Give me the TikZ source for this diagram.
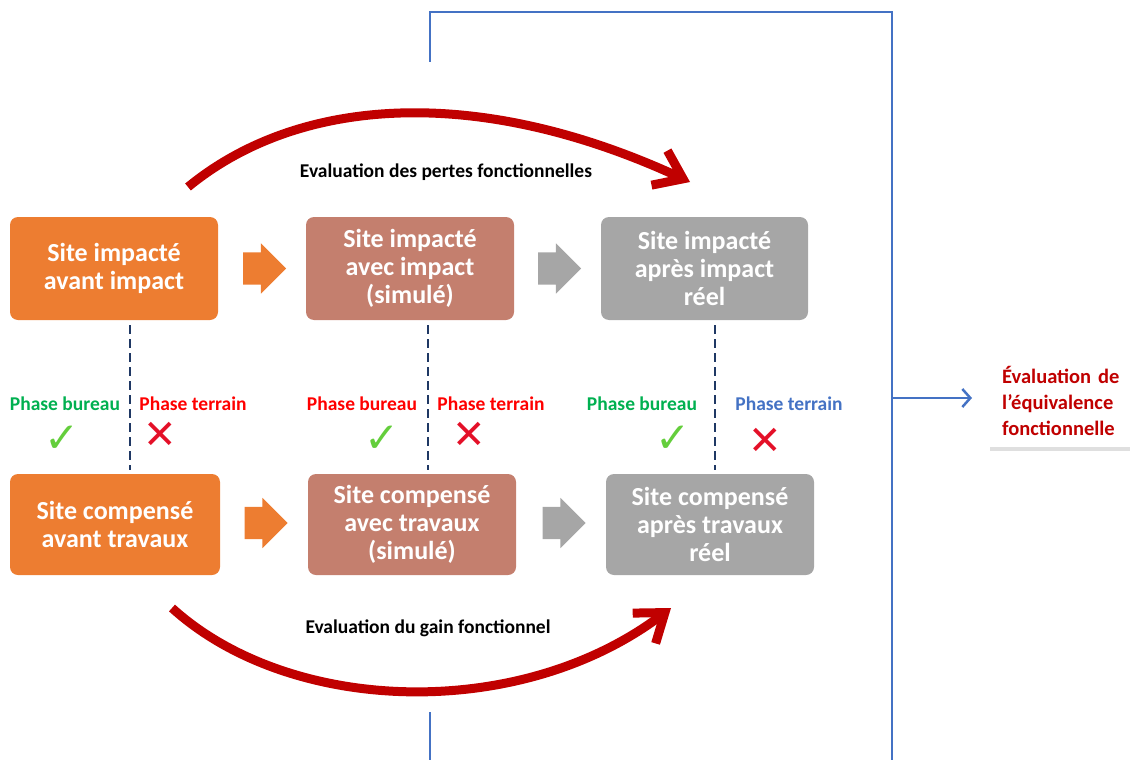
\documentclass[tikz,border=0pt]{standalone}
\usepackage{fontspec}
\setmainfont{Carlito}
\newfontfamily\symbfont{DejaVu Sans}
\usepackage{tikz}
\usetikzlibrary{shapes.arrows,arrows.meta,shadows}
\definecolor{OrangeSite}{RGB}{237,125,49}
\definecolor{BrunSite}{RGB}{196,127,110}
\definecolor{GrisSite}{RGB}{166,166,166}
\definecolor{RougeFleche}{RGB}{192,0,0}
\definecolor{BleuCadre}{RGB}{68,114,196}
\definecolor{VertPhase}{RGB}{0,176,80}
\definecolor{RougePhase}{RGB}{255,0,0}
\definecolor{MarineTrait}{RGB}{31,56,100}
\definecolor{VertCoche}{RGB}{100,206,60}
\definecolor{RougeCroix}{RGB}{228,16,40}

\begin{document}
\begin{tikzpicture}[x=1pt,y=-1pt,
site/.style n args={3}{rectangle,fill=#1,rounded corners=8pt,minimum width=#2,minimum height=#3,text=white,align=center,font=\bfseries\fontsize{26}{28}\selectfont,inner sep=0pt},
bloc/.style={single arrow,fill=#1,draw=none,minimum height=43pt,inner xsep=0pt,inner ysep=16pt,single arrow head extend=9pt,single arrow head indent=0pt},
phase/.style={text=#1,font=\bfseries\fontsize{19.5}{22}\selectfont},
coche/.style={text=VertCoche,font=\symbfont\fontsize{42}{42}\selectfont},
croix/.style={text=RougeCroix,font=\symbfont\fontsize{40}{40}\selectfont},
pointille/.style={MarineTrait,line width=2pt,dash pattern=on 9pt off 5pt},
evalfleche/.style={line width=9pt,RougeFleche,-{Straight Barb[length=26pt,width=38pt]}},
evaltexte/.style={font=\bfseries\fontsize{19.5}{22}\selectfont},
cadre/.style={BleuCadre,line width=2.5pt}]
\useasboundingbox (0,0) rectangle (1130,760);
% sites
\node[site={OrangeSite}{208pt}{103pt}] (impAvant) at (114,268.5) {Site impacté\\avant impact};
\node[site={BrunSite}{208pt}{103pt}] (impAvec) at (410,268.5) {Site impacté\\avec impact\\(simulé)};
\node[site={GrisSite}{207pt}{103pt}] (impApres) at (704.5,268.5) {Site impacté\\après impact\\réel};
\node[site={OrangeSite}{210pt}{101pt}] (compAvant) at (115,524.5) {Site compensé\\avant travaux};
\node[site={BrunSite}{208pt}{101pt}] (compAvec) at (412,524.5) {Site compensé\\avec travaux\\(simulé)};
\node[site={GrisSite}{208pt}{101pt}] (compApres) at (710,524.5) {Site compensé\\après travaux\\réel};
\node[bloc=OrangeSite] (flecheA1) at (256.5,268.5) {};
\node[bloc=GrisSite] (flecheB1) at (551.5,268.5) {};
\node[bloc=OrangeSite] (flecheA2) at (258,523) {};
\node[bloc=GrisSite] (flecheB2) at (556,523) {};
% separations
\foreach \haut/\bas/\dh/\db in %
{impAvant/compAvant/16/15,impAvec/compAvec/18/16,impApres/compApres/10.5/5} {
   \draw[pointille] ([xshift=\dh pt,yshift=-5pt]\haut.south) -- ([xshift=\db pt,yshift=4pt]\bas.north);
}
\node[phase=VertPhase] (bureauA) at (65,404) {Phase bureau};
\node[phase=RougePhase] (terrainA) at (193,404) {Phase terrain};
\node[phase=RougePhase] (bureauB) at (362,404) {Phase bureau};
\node[phase=RougePhase] (terrainB) at (491,404) {Phase terrain};
\node[phase=VertPhase] (bureauC) at (642,404) {Phase bureau};
\node[phase=BleuCadre] (terrainC) at (789,404) {Phase terrain};
\node[coche] (cocheA) at (62,439) {✓};
\node[coche] (cocheB) at (382,439) {✓};
\node[coche] (cocheC) at (673,439) {✓};
\node[croix] (croixA) at (160,435) {✕};
\node[croix] (croixB) at (469,435) {✕};
\node[croix] (croixC) at (765,441) {✕};
% evaluations
\coordinate (pertesDebut) at (188,187);
\coordinate (pertesFin) at (690,182);
\coordinate (gainDebut) at (172,608);
\coordinate (gainFin) at (671,608);
\draw[evalfleche] (pertesDebut) .. controls (300,95) and (480,85) .. (pertesFin);
\draw[evalfleche] (gainDebut) .. controls (290,715) and (520,722) .. (gainFin);
\node[evaltexte] (pertes) at (446,172) {Evaluation des pertes fonctionnelles};
\node[evaltexte] (gain) at (428,628) {Evaluation du gain fonctionnel};
% equivalence
\node[anchor=north west,fill=white,text=RougeFleche,align=left,text width=135pt,inner xsep=14pt,inner ysep=11pt,
   font=\bfseries\fontsize{20.5}{26}\selectfont,
   drop shadow={opacity=0.25,shadow xshift=2pt,shadow yshift=-4pt}] (equiv) at (988,355)
   {Évaluation de\\l’équivalence\\fonctionnelle};
\coordinate (cadreHaut) at (430,62);
\coordinate (cadreBas) at (430,712);
\coordinate (jonction) at (892,398);
\draw[cadre] (cadreHaut) -- (430,12) -- (892,12) -- (892,760);
\draw[cadre] (cadreBas) -- (430,760);
\draw[cadre,-{Straight Barb[length=8pt,width=18pt]},shorten >=16pt] (jonction) -- (jonction -| equiv.west);
\end{tikzpicture}
\end{document}
